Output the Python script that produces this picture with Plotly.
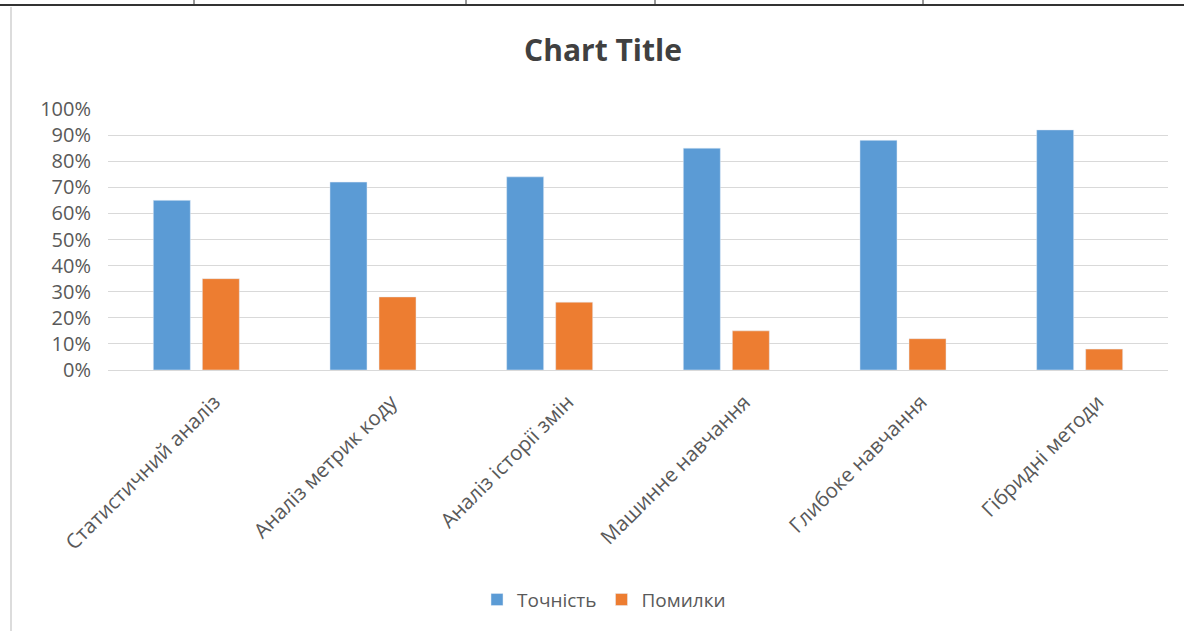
import plotly.graph_objects as go

categories = ["Статистичний аналіз", "Аналіз метрик коду", "Аналіз історії змін",
              "Машинне навчання", "Глибоке навчання", "Гібридні методи"]
accuracy = [0.65, 0.72, 0.74, 0.85, 0.88, 0.92]
errors = [0.35, 0.28, 0.26, 0.15, 0.12, 0.08]

FONT = "Open Sans"
GRAY = "#595959"

fig = go.Figure()
fig.add_trace(go.Bar(x=categories, y=accuracy, name="Точність", marker_color="#5B9BD5"))
fig.add_trace(go.Bar(x=categories, y=errors, name="Помилки", marker_color="#ED7D31"))

fig.update_layout(
    width=1184, height=631,
    margin=dict(l=108, r=16, t=109, b=261),
    paper_bgcolor="white", plot_bgcolor="white",
    barmode="group", bargap=0.445, bargroupgap=0.245,
    title=dict(text="<b>Chart Title</b>", x=603/1184, xanchor="center", y=1 - 50/631, yanchor="middle",
               font=dict(family=FONT, size=30, color="#404040")),
    font=dict(family=FONT, color=GRAY),
    legend=dict(orientation="h", x=(604-108)/1060, xanchor="center", y=-0.88, yanchor="middle",
                font=dict(family=FONT, size=19, color=GRAY), itemwidth=30, traceorder="normal"),
    xaxis=dict(tickangle=-45, tickfont=dict(family=FONT, size=20.5, color=GRAY),
               ticklabelshift=18, ticklabelstandoff=11,
               showline=True, linecolor="#d9d9d9", linewidth=1, ticks="", showgrid=False),
    yaxis=dict(range=[0, 1.0], dtick=0.1, tickformat=".0%", showgrid=True, gridcolor="#d9d9d9",
               gridwidth=1, zeroline=False, ticks="", ticklen=0, ticklabelstandoff=16,
               tickfont=dict(family=FONT, size=20, color=GRAY)),
    showlegend=True,
)

# page decoration from the document screenshot
shapes = [
    dict(type="line", xref="paper", yref="paper", x0=-108/1060, x1=1.0 + 16/1060,
         y0=1 + (109-5)/261, y1=1 + (109-5)/261, line=dict(color="#333333", width=2)),
    dict(type="line", xref="paper", yref="paper", x0=(11-108)/1060, x1=(11-108)/1060,
         y0=1 + (109-7)/261, y1=-261/261, line=dict(color="#d0d0d0", width=1.5)),
]
for px in [194, 466, 655, 923]:
    xp = (px - 108) / 1060
    shapes.append(dict(type="line", xref="paper", yref="paper", x0=xp, x1=xp,
                       y0=1 + 109/261, y1=1 + (109-5)/261, line=dict(color="#333333", width=1)))
fig.update_layout(shapes=shapes)

fig.write_html("out.html")
